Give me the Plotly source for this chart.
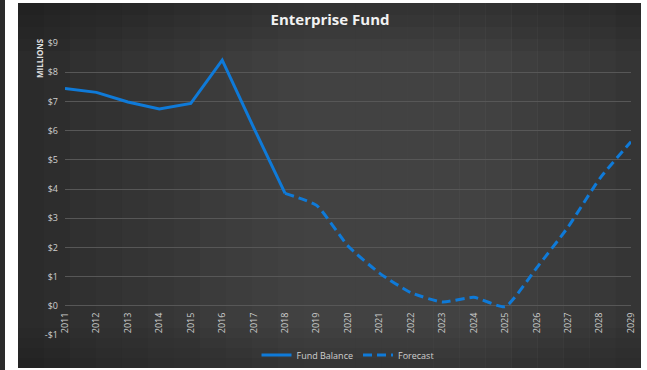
import plotly.graph_objects as go

years = [str(y) for y in range(2011, 2030)]
fund_years = years[:8]          # 2011-2018
fund_values = [7.44, 7.31, 6.98, 6.74, 6.93, 8.41, 6.10, 3.85]
fc_years = years[7:]            # 2018-2029
fc_values = [3.85, 3.44, 2.05, 1.12, 0.45, 0.13, 0.29, -0.03, 1.30, 2.70, 4.35, 5.62]
y_ticks = [-1, 0, 1, 2, 3, 4, 5, 6, 7, 8, 9]
y_labels = ["-$1", "$0", "$1", "$2", "$3", "$4", "$5", "$6", "$7", "$8", "$9"]

W, H = 647, 370
L, R, T, B = 65, 16, 43, 35
pw, ph = W - L - R, H - T - B

def px(x):
    return (x - L) / pw

def py(y):
    return (H - B - y) / ph

blue = "#0f7ad8"
fig = go.Figure()
fig.add_trace(go.Scatter(x=fund_years, y=fund_values, mode="lines", name="Fund Balance",
                         line=dict(color=blue, width=3)))
fig.add_trace(go.Scatter(x=fc_years, y=fc_values, mode="lines", name="Forecast",
                         line=dict(color=blue, width=3, dash="9px,5px", shape="spline", smoothing=0.5)))

shapes = []
shapes.append(dict(type="rect", xref="paper", yref="paper", x0=px(0), x1=px(5), y0=py(H), y1=py(0),
                   fillcolor="#2b2b2b", line_width=0, layer="below"))
x_start, x_end = 18, 641
n = 24
base = [(42, 42, 42), (66, 66, 66), (66, 66, 66), (52, 52, 52)]
stops = [0.0, 0.45, 0.75, 1.0]
def col(t):
    for i in range(len(stops) - 1):
        if stops[i] <= t <= stops[i + 1]:
            f = (t - stops[i]) / (stops[i + 1] - stops[i])
            c = [round(base[i][k] + f * (base[i + 1][k] - base[i][k])) for k in range(3)]
            return "rgb(%d,%d,%d)" % tuple(c)
    return "rgb(52,52,52)"
step = (x_end - x_start) / n
for i in range(n):
    a = x_start + i * step
    b = a + step + 0.6
    shapes.append(dict(type="rect", xref="paper", yref="paper", x0=px(a), x1=px(min(b, x_end)),
                       y0=py(368), y1=py(3), fillcolor=col((i + 0.5) / n), line_width=0, layer="below"))
for k in range(4):
    shapes.append(dict(type="rect", xref="paper", yref="paper", x0=px(x_start), x1=px(x_end),
                       y0=py(3 + 12 * (k + 1)), y1=py(3), fillcolor="rgba(20,20,20,0.07)",
                       line_width=0, layer="below"))
    shapes.append(dict(type="rect", xref="paper", yref="paper", x0=px(x_start), x1=px(x_end),
                       y0=py(368), y1=py(368 - 10 * (k + 1)), fillcolor="rgba(20,20,20,0.06)",
                       line_width=0, layer="below"))

fig.update_layout(
    width=W, height=H,
    margin=dict(l=L, r=R, t=T, b=B, autoexpand=False),
    paper_bgcolor="white",
    plot_bgcolor="rgba(0,0,0,0)",
    shapes=shapes,
    title=dict(text="<b>Enterprise Fund</b>", x=330 / W, xanchor="center", y=1 - 20 / H, yanchor="middle",
               font=dict(family="Open Sans", size=15, color="#f2f2f2")),
    xaxis=dict(type="category", categoryorder="array", categoryarray=years,
               range=[0, len(years) - 1], tickangle=-90, showgrid=False, zeroline=False,
               showline=False, ticks="", anchor="free", position=1 / 10, automargin=False,
               ticklabelstandoff=4,
               tickfont=dict(family="Open Sans", size=9, color="#cfcfcf")),
    yaxis=dict(range=[-1, 9], tickvals=y_ticks, ticktext=y_labels, showgrid=True, automargin=False,
               gridcolor="#575757", gridwidth=1, zeroline=False, showline=False, ticks="",
               ticklabelstandoff=6,
               tickfont=dict(family="Open Sans", size=9, color="#cfcfcf")),
    legend=dict(orientation="h", x=0.5, xanchor="center", y=py(355), yanchor="middle",
                font=dict(family="Open Sans", size=9, color="#cfcfcf"), bgcolor="rgba(0,0,0,0)",
                itemwidth=30),
    annotations=[dict(text="<b>MILLIONS</b>", xref="paper", yref="paper", x=px(40), y=py(58),
                      textangle=-90, showarrow=False, xanchor="center", yanchor="middle",
                      font=dict(family="Open Sans", size=8, color="#e0e0e0"))],
)

fig.write_html("out.html")
